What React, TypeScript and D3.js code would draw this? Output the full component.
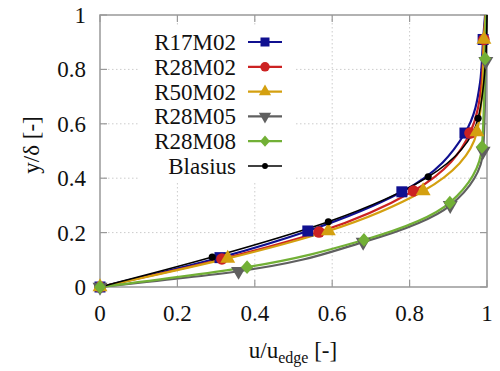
import React from "react";
import * as d3 from "d3";

const seriesNames = ["R17M02", "R28M02", "R50M02", "R28M05", "R28M08", "Blasius"];
const seriesColors = ["#101090", "#cc2222", "#d4a010", "#606060", "#72b036", "#000000"];
const seriesMarkers = ["square", "circle", "triangle", "invtriangle", "diamond", "dot"];

// curve points (u, y)
const r17u = [0, 0.31, 0.537, 0.78, 0.943, 0.982, 0.99, 0.995];
const r17y = [0, 0.108, 0.206, 0.35, 0.566, 0.75, 0.91, 1.0];
const r17mu = [0, 0.31, 0.537, 0.78, 0.943, 0.99];
const r17my = [0, 0.108, 0.206, 0.35, 0.566, 0.91];

const r28u = [0, 0.315, 0.566, 0.81, 0.956, 0.986, 0.992, 0.996];
const r28y = [0, 0.103, 0.202, 0.353, 0.566, 0.75, 0.91, 1.0];
const r28mu = [0, 0.315, 0.566, 0.81, 0.956, 0.992];
const r28my = [0, 0.103, 0.202, 0.353, 0.566, 0.91];

const r50u = [0, 0.33, 0.59, 0.835, 0.974, 0.989, 0.992, 0.997];
const r50y = [0, 0.105, 0.206, 0.353, 0.57, 0.75, 0.91, 1.0];
const r50mu = [0, 0.33, 0.59, 0.835, 0.974, 0.992];
const r50my = [0, 0.105, 0.206, 0.353, 0.57, 0.91];

const m05u = [0, 0.358, 0.68, 0.905, 0.99, 0.997, 0.999];
const m05y = [0, 0.058, 0.165, 0.3, 0.5, 0.83, 1.0];
const m05mu = [0, 0.358, 0.68, 0.905, 0.99, 0.997];
const m05my = [0, 0.058, 0.165, 0.3, 0.5, 0.83];

const m08u = [0, 0.38, 0.682, 0.904, 0.987, 0.995, 0.997];
const m08y = [0, 0.073, 0.173, 0.31, 0.515, 0.84, 1.0];
const m08mu = [0, 0.38, 0.682, 0.904, 0.987, 0.995];
const m08my = [0, 0.073, 0.173, 0.31, 0.515, 0.84];

const blu = [0, 0.29, 0.59, 0.848, 0.977, 0.997, 1.0];
const bly = [0, 0.11, 0.24, 0.405, 0.62, 0.85, 1.0];
const blmu = [0.29, 0.59, 0.848, 0.977];
const blmy = [0.11, 0.24, 0.405, 0.62];

const curveU = [r17u, r28u, r50u, m05u, m08u, blu];
const curveY = [r17y, r28y, r50y, m05y, m08y, bly];
const markU = [r17mu, r28mu, r50mu, m05mu, m08mu, blmu];
const markY = [r17my, r28my, r50my, m05my, m08my, blmy];

const xTicks = [0, 0.2, 0.4, 0.6, 0.8, 1];
const yTicks = [0, 0.2, 0.4, 0.6, 0.8, 1];
const xTickLabels = ["0", "0.2", "0.4", "0.6", "0.8", "1"];
const yTickLabels = ["0", "0.2", "0.4", "0.6", "0.8", "1"];

const W = 500, H = 371;
const L = 100, R = 487, T = 15, B = 287;
const FS = 23;

function Marker({ type, x, y, color, s }: { type: string; x: number; y: number; color: string; s: number }) {
  if (type === "square") return <rect x={x - s} y={y - s} width={2 * s} height={2 * s} fill={color} />;
  if (type === "circle") return <circle cx={x} cy={y} r={s * 1.05} fill={color} />;
  if (type === "triangle") {
    const sym = d3.symbol(d3.symbolTriangle, s * s * 3.2)();
    return <path d={sym || ""} transform={`translate(${x},${y})`} fill={color} />;
  }
  if (type === "invtriangle") {
    const sym = d3.symbol(d3.symbolTriangle, s * s * 3.2)();
    return <path d={sym || ""} transform={`translate(${x},${y}) rotate(180)`} fill={color} />;
  }
  if (type === "diamond") {
    const d = `M${x},${y - s * 1.25}L${x + s * 1.1},${y}L${x},${y + s * 1.25}L${x - s * 1.1},${y}Z`;
    return <path d={d} fill={color} />;
  }
  return <circle cx={x} cy={y} r={s * 0.65} fill={color} />;
}

function T2(props: any) {
  const { children, ...rest } = props;
  return (
    <text {...rest} fontFamily="Liberation Serif" style={{ fontFamily: '"Liberation Serif"' }} fill="#111">
      {children}
    </text>
  );
}

export default function App() {
  const xs = d3.scaleLinear().domain([0, 1]).range([L, R]);
  const ys = d3.scaleLinear().domain([0, 1]).range([B, T]);
  const line = d3
    .line<[number, number]>()
    .x((d) => xs(d[0]))
    .y((d) => ys(d[1]))
    .curve(d3.curveMonotoneY);

  const legX = 248, legX2 = 282, legY0 = 42, legDy = 24.8;

  return (
    <svg width={W} height={H} style={{ position: "absolute", left: 0, top: 0 }}>
      <style>{`text { font-family: "Liberation Serif"; }`}</style>
      <rect x={0} y={0} width={W} height={H} fill="#fff" />
      {/* grid */}
      {xTicks.slice(1, -1).map((t) => (
        <line key={"gx" + t} x1={xs(t)} x2={xs(t)} y1={T} y2={B} stroke="#cccccc" strokeWidth={1} strokeDasharray="1.5,2.5" />
      ))}
      {yTicks.slice(1, -1).map((t) => (
        <line key={"gy" + t} x1={L} x2={R} y1={ys(t)} y2={ys(t)} stroke="#cccccc" strokeWidth={1} strokeDasharray="1.5,2.5" />
      ))}
      {/* legend background */}
      <rect x={140} y={25} width={155} height={156} fill="#fff" />
      {/* frame */}
      <rect x={L} y={T} width={R - L} height={B - T} fill="none" stroke="#999" strokeWidth={1.5} />
      {xTicks.map((t) => (
        <g key={"tx" + t}>
          <line x1={xs(t)} x2={xs(t)} y1={B} y2={B - 7} stroke="#999" strokeWidth={1.2} />
          <line x1={xs(t)} x2={xs(t)} y1={T} y2={T + 7} stroke="#999" strokeWidth={1.2} />
        </g>
      ))}
      {yTicks.map((t) => (
        <g key={"ty" + t}>
          <line x1={L} x2={L + 7} y1={ys(t)} y2={ys(t)} stroke="#999" strokeWidth={1.2} />
          <line x1={R} x2={R - 7} y1={ys(t)} y2={ys(t)} stroke="#999" strokeWidth={1.2} />
        </g>
      ))}
      {/* tick labels */}
      {xTicks.map((t, i) => (
        <T2 key={"lx" + t} x={xs(t)} y={321} fontSize={FS} textAnchor="middle">
          {xTickLabels[i]}
        </T2>
      ))}
      {yTicks.map((t, i) => (
        <T2 key={"ly" + t} x={86} y={ys(t) + 8} fontSize={FS} textAnchor="end">
          {yTickLabels[i]}
        </T2>
      ))}
      {/* axis titles */}
      <T2 x={293} y={358} fontSize={FS} textAnchor="middle">
        u/u<tspan fontSize={16} dy={5}>edge</tspan>
        <tspan dy={-5}> [-]</tspan>
      </T2>
      <T2 transform={`translate(39,145) rotate(-90)`} fontSize={FS} textAnchor="middle">
        y/δ [-]
      </T2>
      {/* curves */}
      {seriesNames.map((n, i) => {
        const pts = curveU[i].map((u, k) => [u, curveY[i][k]] as [number, number]);
        return (
          <path key={"c" + n} d={line(pts) || ""} fill="none" stroke={seriesColors[i]} strokeWidth={i === 5 ? 1.6 : 2.2} />
        );
      })}
      {/* markers */}
      {seriesNames.map((n, i) => (
        <g key={"m" + n}>
          {markU[i].map((u, k) => (
            <Marker key={k} type={seriesMarkers[i]} x={xs(u)} y={ys(markY[i][k])} color={seriesColors[i]} s={5.5} />
          ))}
        </g>
      ))}
      {/* legend */}
      {seriesNames.map((n, i) => {
        const y = legY0 + i * legDy;
        return (
          <g key={"lg" + n}>
            <T2 x={236} y={y + 8} fontSize={FS} textAnchor="end">
              {n}
            </T2>
            <line x1={legX} x2={legX2} y1={y} y2={y} stroke={seriesColors[i]} strokeWidth={i === 5 ? 1.6 : 2.2} />
            <Marker type={seriesMarkers[i]} x={(legX + legX2) / 2} y={y} color={seriesColors[i]} s={4.5} />
          </g>
        );
      })}
    </svg>
  );
}
